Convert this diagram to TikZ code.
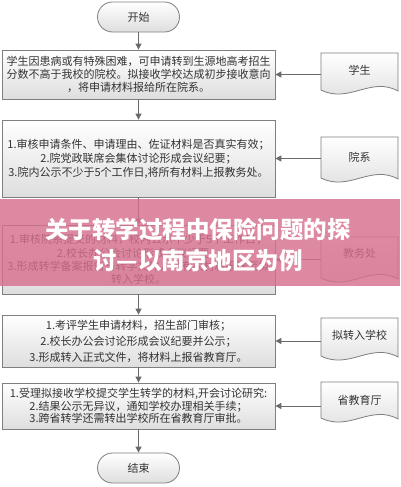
\documentclass[tikz,border=0pt]{standalone}
\usepackage{fontspec}
\setmainfont{Noto Sans CJK SC}
\usetikzlibrary{arrows.meta}
\definecolor{txt}{HTML}{333333}
\definecolor{bord}{HTML}{7F7F7F}
\definecolor{shade}{HTML}{DEDEDE}
\definecolor{arrc}{HTML}{6A6A6A}
\definecolor{banner}{RGB}{214,112,142}
\newcommand\mydoc[3]{%
  \draw[docsty] (#1,#2) -- (#1+77,#2) -- (#1+77,#3+1)
    .. controls (#1+50,#3-14) and (#1+28,#3+14) .. (#1,#3) -- cycle;}
\tikzset{
  boxsty/.style={draw=bord, line width=0.8pt, top color=white, bottom color=shade,
    minimum width=273pt, align=center, text=txt, inner sep=0pt},
  termsty/.style={draw=bord, line width=0.8pt, top color=white, bottom color=shade,
    rounded corners=15pt, minimum width=82pt, minimum height=30pt, text=txt,
    font=\fontsize{11}{13}\selectfont},
  docsty/.style={draw=bord, line width=0.8pt, top color=white, bottom color=shade},
  doctxt/.style={minimum width=77pt, inner sep=0pt, text=txt, font=\fontsize{11}{13}\selectfont},
  arr/.style={draw=arrc, line width=1pt, -{Triangle[length=6pt,width=6pt]}},
  bantxt/.style={text=white, font=\fontsize{23.5}{24}\selectfont\bfseries}
}
\begin{document}
\begin{tikzpicture}[x=1pt,y=-1pt]
\useasboundingbox[fill=white] (0,0) rectangle (400,487);

% terminals
\node[termsty] (start) at (138.5,17) {开始};
\node[termsty] (end) at (138.5,468) {结束};

% process boxes
\node[boxsty, minimum height=49pt, font=\fontsize{11}{13}\selectfont] (b1) at (138.5,74.5)
  {学生因患病或有特殊困难，可申请转到生源地高考招生\\分数不高于我校的院校。拟接收学校达成初步接收意向\\，将申请材料报给所在院系。};
\node[boxsty, minimum height=77pt, font=\fontsize{11}{14}\selectfont] (b2) at (138.5,158.5)
  {1.审核申请条件、申请理由、佐证材料是否真实有效；\\2.院党政联席会集体讨论形成会议纪要；\\3.院内公示不少于5个工作日,将所有材料上报教务处。};
\node[boxsty, minimum height=69pt, font=\fontsize{11}{13.4}\selectfont] (b3) at (138.5,259.5)
  {1.审核院系提交的材料，校内公示不少于5个工作日；\\2.校长办公会讨论形成会议纪要；\\3.形成转学备案报告与转学文件，将有关材料报送至拟\\转入学校。};
\node[boxsty, minimum height=52pt, font=\fontsize{11}{16}\selectfont] (b4) at (138.5,341)
  {1.考评学生申请材料，招生部门审核；\\2.校长办公会讨论形成会议纪要并公示；\\3.形成转入正式文件，将材料上报省教育厅。};
\node[boxsty, minimum height=46pt, font=\fontsize{11}{12.6}\selectfont] (b5) at (138.5,406)
  {1.受理拟接收学校提交学生转学的材料,开会讨论研究:\\2.结果公示无异议，通知学校办理相关手续；\\3.跨省转学还需转出学校所在省教育厅审批。};

% document shapes
\mydoc{321}{53}{90}
\mydoc{321}{137}{178}
\mydoc{321}{237}{278}
\mydoc{321}{318}{356}
\mydoc{321}{382}{418}
\node[doctxt] (d1) at (359.5,70) {学生};
\node[doctxt] (d2) at (359.5,157) {院系};
\node[doctxt] (d3) at (359.5,253) {教务处};
\node[doctxt] (d4) at (359.5,335) {拟转入学校};
\node[doctxt] (d5) at (359.5,400) {省教育厅};

% connectors
\draw[arr] (start) -- (b1);
\draw[arr] (b1) -- (b2);
\draw[arr] (b2) -- (b3);
\draw[arr] (b3) -- (b4);
\draw[arr] (b4) -- (b5);
\draw[arr] (b5) -- (end);
\draw[arr] (b1.east -| d1.west) -- (b1.east);
\draw[arr] (b2.east -| d2.west) -- (b2.east);
\draw[arr] (b3.east -| d3.west) -- (b3.east);
\draw[arr] (b4.east -| d4.west) -- (b4.east);
\draw[arr] (b5.east -| d5.west) -- (b5.east);

% banner overlay
\fill[banner, fill opacity=0.82] (0,199) rectangle (400,286);
\node[bantxt] (t1) at (198,229) {关于转学过程中保险问题的探};
\node[bantxt] (t2) at (198,260) {讨—以南京地区为例};
\end{tikzpicture}
\end{document}
